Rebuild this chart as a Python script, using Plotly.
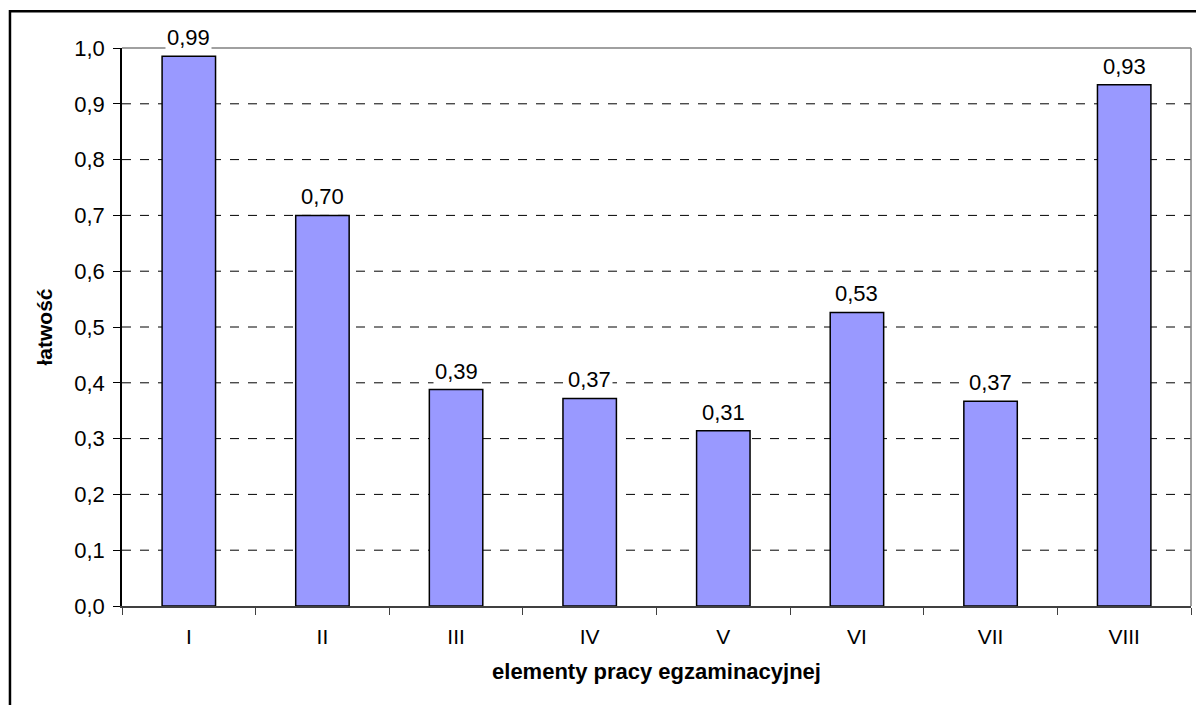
import plotly.graph_objects as go

categories = ["I", "II", "III", "IV", "V", "VI", "VII", "VIII"]
values = [0.985, 0.70, 0.388, 0.372, 0.314, 0.526, 0.367, 0.934]
value_labels = ["0,99", "0,70", "0,39", "0,37", "0,31", "0,53", "0,37", "0,93"]
y_tickvals = [0.0, 0.1, 0.2, 0.3, 0.4, 0.5, 0.6, 0.7, 0.8, 0.9, 1.0]
y_ticktext = ["0,0", "0,1", "0,2", "0,3", "0,4", "0,5", "0,6", "0,7", "0,8", "0,9", "1,0"]

FONT = "Liberation Sans, Arial, sans-serif"

fig = go.Figure()
fig.add_trace(go.Bar(
    x=categories, y=values,
    marker=dict(color="#9999FF", line=dict(color="black", width=1.5)),
    hoverinfo="skip",
))

for c, v, t in zip(categories, values, value_labels):
    fig.add_annotation(x=c, y=v, text=t, showarrow=False, yanchor="bottom",
                       yshift=4, bgcolor="white", borderpad=1,
                       font=dict(family=FONT, size=22, color="black"))

shapes = []
for v in y_tickvals[1:-1]:
    shapes.append(dict(type="line", xref="paper", yref="y", x0=0, x1=1, y0=v, y1=v,
                       line=dict(color="black", width=1, dash="dash"), layer="below"))
# plot area top/right border (gray)
shapes.append(dict(type="line", xref="paper", yref="paper", x0=0, x1=1, y0=1, y1=1,
                   line=dict(color="#808080", width=1.5), layer="below"))
shapes.append(dict(type="line", xref="paper", yref="paper", x0=1, x1=1, y0=0, y1=1,
                   line=dict(color="#808080", width=1.5), layer="below"))
# outer chart border
shapes.append(dict(type="rect", xref="paper", yref="paper", x0=-0.1048, x1=1.2, y0=-0.3, y1=1.066,
                   line=dict(color="black", width=2.5), fillcolor="rgba(0,0,0,0)"))

fig.update_layout(
    width=1196, height=697,
    margin=dict(l=114, r=13, t=40, b=99),
    paper_bgcolor="white", plot_bgcolor="white",
    showlegend=False, bargap=0.6,
    font=dict(family=FONT, size=22, color="black"),
    shapes=shapes,
    xaxis=dict(
        showgrid=False, showline=True, linecolor="#404040", linewidth=2,
        ticks="outside", ticklen=7, tickcolor="#404040", tickson="boundaries",
        tickfont=dict(family=FONT, size=21),
        ticklabelstandoff=11,
        title=dict(text="<b>elementy pracy egzaminacyjnej</b>", standoff=16,
                   font=dict(family=FONT, size=22)),
    ),
    yaxis=dict(
        range=[0, 1.0], showgrid=False, zeroline=False,
        showline=True, linecolor="black", linewidth=1.5,
        ticks="outside", ticklen=7, tickcolor="black",
        tickvals=y_tickvals, ticktext=y_ticktext,
        tickfont=dict(family=FONT, size=22),
        ticklabelstandoff=4,
        title=dict(text="<b>łatwość</b>", standoff=16,
                   font=dict(family=FONT, size=21)),
    ),
)

fig.write_html("out.html")
